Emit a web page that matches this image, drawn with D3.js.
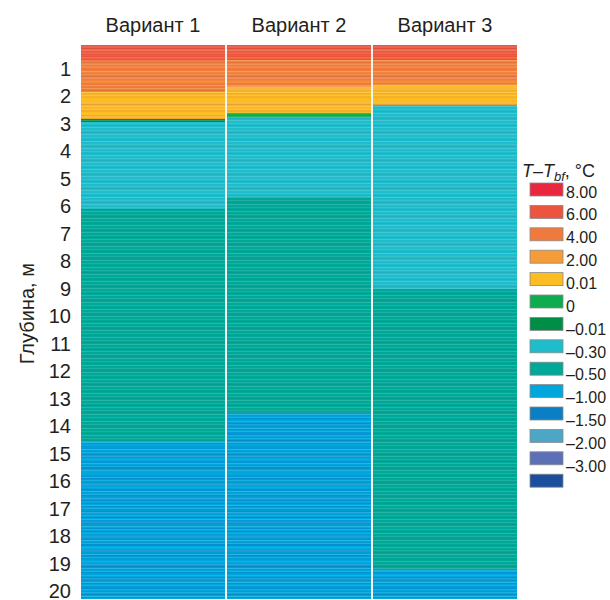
<!DOCTYPE html>
<html>
<head>
<meta charset="utf-8">
<script src="https://cdn.jsdelivr.net/npm/d3@7"></script>
<style>
  body { margin: 0; background: #fff; }
  text { font-family: "Liberation Sans", Arial, sans-serif; fill: #231f20; }
</style>
</head>
<body>
<div id="chart"></div>
<script>
// data ///////////////////////////////////////////
var variants = ['Вариант 1', 'Вариант 2', 'Вариант 3'];

// legend classes, T - Tbf, °C
var classLabels = ['8.00', '6.00', '4.00', '2.00', '0.01', '0', '–0.01', '–0.30', '–0.50', '–1.00', '–1.50', '–2.00', '–3.00', ''];
var classColors = ['#e9283f', '#ec5440', '#f07a3e', '#f59b37', '#fbbd22', '#0eab4f', '#008d46', '#1fbccb', '#00a898', '#00a7dd', '#0a7fc4', '#4ea6c6', '#5d70b6', '#1b4e9d'];

// layer boundaries (depth, m) and class index for each variant
var v1Bounds = [0.13, 0.74, 1.84, 2.82, 2.93, 6.09, 14.53, 20.27];
var v1Class  = [1, 2, 4, 6, 7, 8, 9];
var v1Mix    = [2, 3, 3, 6, 7, 8, 10];

var v2Bounds = [0.13, 0.68, 1.65, 2.60, 2.75, 5.65, 13.50, 20.27];
var v2Class  = [1, 2, 4, 5, 7, 8, 9];
var v2Mix    = [2, 3, 3, 5, 7, 8, 10];

var v3Bounds = [0.13, 0.68, 1.58, 2.31, 9.00, 19.22, 20.27];
var v3Class  = [1, 2, 4, 7, 8, 9];
var v3Mix    = [2, 3, 3, 7, 8, 10];

var depthTicks = d3.range(1, 21);

// layout ///////////////////////////////////////////
var width = 610, height = 600;
var svg = d3.select('#chart').append('svg')
    .attr('width', width).attr('height', height);

var x = d3.scaleBand().domain(variants).range([81, 517]).paddingInner(0.0137);
var y = d3.scaleLinear().domain([0.13, 20.27]).range([45, 599]);

function layers(bounds, cls, mix) {
    return cls.map(function(c, i) {
        return {top: bounds[i], bottom: bounds[i + 1], cls: c, mix: mix[i]};
    });
}
var allLayers = [layers(v1Bounds, v1Class, v1Mix), layers(v2Bounds, v2Class, v2Mix), layers(v3Bounds, v3Class, v3Mix)];

// stripe patterns, one per mix colour
var defs = svg.append('defs');
classColors.forEach(function(col, i) {
    var p = defs.append('pattern')
        .attr('id', 'mix' + i)
        .attr('patternUnits', 'userSpaceOnUse')
        .attr('width', 10).attr('height', 11);
    [[0, 1, 0.55], [3, 1, 0.35], [5, 1.5, 0.6], [8, 1, 0.3]].forEach(function(s) {
        p.append('rect').attr('x', 0).attr('y', s[0]).attr('width', 10).attr('height', s[1])
            .attr('fill', col).attr('opacity', s[2]);
    });
});
var lt = defs.append('pattern')
    .attr('id', 'light')
    .attr('patternUnits', 'userSpaceOnUse')
    .attr('width', 10).attr('height', 7);
lt.append('rect').attr('y', 1).attr('width', 10).attr('height', 1).attr('fill', '#fff').attr('opacity', 0.16);
lt.append('rect').attr('y', 4).attr('width', 10).attr('height', 1).attr('fill', '#fff').attr('opacity', 0.10);
lt.append('rect').attr('y', 6).attr('width', 10).attr('height', 1).attr('fill', '#000').attr('opacity', 0.05);

// columns //////////////////////////////////////
var cols = svg.selectAll('g.col')
    .data(allLayers)
    .enter().append('g')
    .attr('class', 'col')
    .attr('transform', function(d, i) { return 'translate(' + x(variants[i]) + ',0)'; });

cols.selectAll('rect.base')
    .data(function(d) { return d; })
    .enter().append('rect')
    .attr('x', 0)
    .attr('y', function(d) { return y(d.top); })
    .attr('width', x.bandwidth())
    .attr('height', function(d) { return y(d.bottom) - y(d.top); })
    .attr('fill', function(d) { return classColors[d.cls]; });

cols.selectAll('rect.mix')
    .data(function(d) { return d; })
    .enter().append('rect')
    .attr('x', 0)
    .attr('y', function(d) { return y(d.top); })
    .attr('width', x.bandwidth())
    .attr('height', function(d) { return y(d.bottom) - y(d.top); })
    .attr('fill', function(d) { return 'url(#mix' + d.mix + ')'; });

cols.append('rect')
    .attr('x', 0).attr('y', y(0.13))
    .attr('width', x.bandwidth())
    .attr('height', y(20.27) - y(0.13))
    .attr('fill', 'url(#light)');

// thin grey separators between columns
svg.selectAll('line.sep')
    .data(variants.slice(1))
    .enter().append('line')
    .attr('x1', function(d) { return x(d) - 1; })
    .attr('x2', function(d) { return x(d) - 1; })
    .attr('y1', y(0.13)).attr('y2', y(20.27))
    .attr('stroke', '#d8d8d0').attr('stroke-width', 0.6);

// headers
svg.selectAll('text.head')
    .data(variants)
    .enter().append('text')
    .attr('x', function(d) { return x(d) + x.bandwidth() / 2; })
    .attr('y', 32)
    .attr('text-anchor', 'middle')
    .style('font-size', '20px')
    .text(function(d) { return d; });

// depth axis
var yAxis = svg.append('g')
    .attr('transform', 'translate(71,0)')
    .call(d3.axisLeft(y).tickValues(depthTicks).tickSize(0).tickPadding(0));
yAxis.select('.domain').remove();
yAxis.selectAll('text')
    .style('font-size', '20px')
    .style('font-family', '"Liberation Sans", Arial, sans-serif')
    .attr('fill', '#231f20');

svg.append('text')
    .attr('transform', 'translate(34,' + y(9.9) + ') rotate(-90)')
    .attr('text-anchor', 'middle')
    .style('font-size', '20px')
    .text('Глубина, м');

// legend //////////////////////////////////////
var title = svg.append('text')
    .attr('x', 522).attr('y', 177)
    .style('font-size', '18px');
title.append('tspan').style('font-style', 'italic').text('T');
title.append('tspan').text('–');
title.append('tspan').style('font-style', 'italic').text('T');
title.append('tspan').style('font-style', 'italic').style('font-size', '13px').attr('dy', 4).text('bf');
title.append('tspan').attr('dy', -4).text(', °C');

var leg = svg.append('g');
leg.selectAll('rect')
    .data(classColors)
    .enter().append('rect')
    .attr('x', 530)
    .attr('y', function(d, i) { return 183 + i * 22.4; })
    .attr('width', 33).attr('height', 13)
    .attr('fill', function(d) { return d; })
    .attr('stroke', '#8a8a8a')
    .attr('stroke-width', 0.8);

leg.selectAll('text')
    .data(classLabels.filter(function(d) { return d !== ''; }))
    .enter().append('text')
    .attr('x', 566)
    .attr('y', function(d, i) { return 192 + i * 22.85; })
    .attr('dy', '0.35em')
    .style('font-size', '16px')
    .text(function(d) { return d; });
</script>
</body>
</html>
